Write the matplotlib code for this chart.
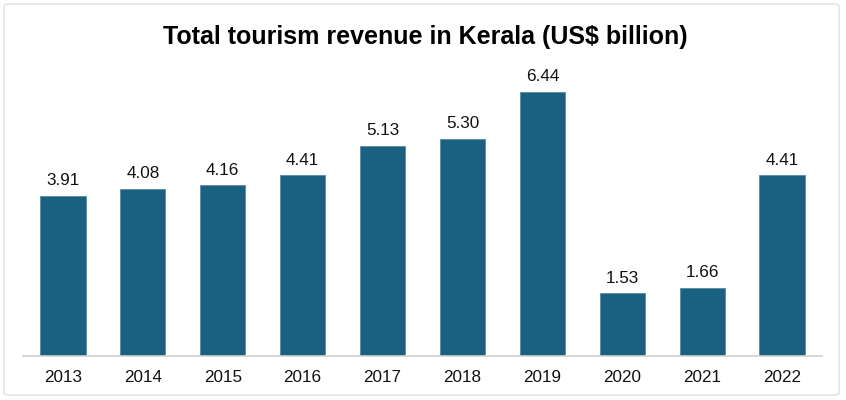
import matplotlib.pyplot as plt
from matplotlib.patches import FancyBboxPatch

years = ["2013", "2014", "2015", "2016", "2017", "2018", "2019", "2020", "2021", "2022"]
revenue = [3.91, 4.08, 4.16, 4.41, 5.13, 5.30, 6.44, 1.53, 1.66, 4.41]

plt.rcParams['font.family'] = ['Liberation Sans', 'DejaVu Sans']

fig = plt.figure(figsize=(8.46, 4.0), dpi=100)
ax = fig.add_axes([23 / 846, 44 / 400, 799 / 846, 287 / 400])

x = range(len(years))
bars = ax.bar(x, revenue, width=0.565, color="#1a6080", edgecolor="#5a8aa3", linewidth=0.6)

for xi, v in zip(x, revenue):
    ax.annotate(f"{v:.2f}", (xi, v), xytext=(0, 5.5), textcoords="offset points",
                ha="center", va="bottom", fontsize=12.3, color="#111111")

ax.set_xlim(-0.5, len(years) - 0.5)
ax.set_ylim(0, 7)
ax.set_xticks(list(x))
ax.set_xticklabels(years, fontsize=12.3, color="#111111")
ax.tick_params(axis="x", length=0, pad=10)
ax.set_yticks([])
for s in ["top", "right", "left"]:
    ax.spines[s].set_visible(False)
ax.spines["bottom"].set_color("#d0d0d0")
ax.spines["bottom"].set_linewidth(1.2)

fig.text(0.503, 0.908, "Total tourism revenue in Kerala (US$ billion)", ha="center", va="center",
         fontsize=18, fontweight="bold", color="black")

border = FancyBboxPatch((4 / 846, 5 / 400), 835 / 846, 391 / 400,
                        boxstyle="round,pad=0,rounding_size=0.006",
                        transform=fig.transFigure, fill=False, edgecolor="#e4e4e4", linewidth=1.2)
fig.patches.append(border)

fig.savefig("out.png", dpi=100)
